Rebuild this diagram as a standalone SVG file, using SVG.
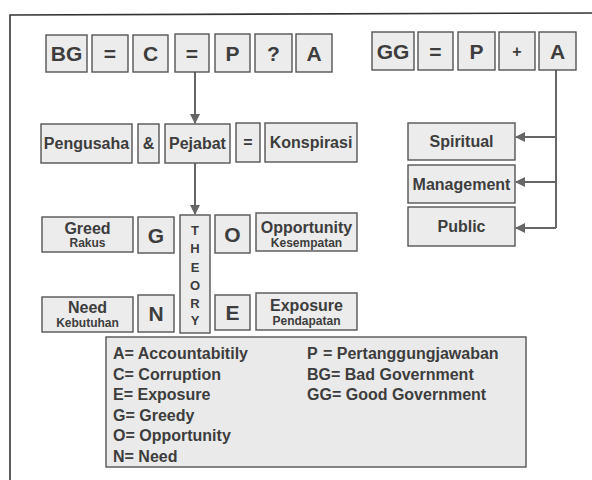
<svg xmlns="http://www.w3.org/2000/svg" width="592" height="480" viewBox="0 0 592 480">
<style>
.bx{fill:#ececec;stroke:#555;stroke-width:1.4}
.t{font-family:"Liberation Sans",Arial,sans-serif;font-weight:bold;fill:#3d3d3d;text-anchor:middle}
.big{font-size:21px}
.md{font-size:16px}
.sm{font-size:12px}
.th{font-family:"Liberation Sans",Arial,sans-serif;font-weight:bold;font-size:13px;fill:#3d3d3d;text-anchor:middle}
.lg{font-family:"Liberation Sans",Arial,sans-serif;font-weight:bold;font-size:16px;fill:#3d3d3d}
.cn{fill:none;stroke:#666;stroke-width:2}
</style>
<defs>
<marker id="ah" viewBox="0 0 10 10" refX="9" refY="5" markerWidth="5" markerHeight="5" orient="auto" markerUnits="strokeWidth">
<path d="M0,0 L10,5 L0,10 z" fill="#666"/>
</marker>
</defs>
<rect width="592" height="480" fill="#ffffff"/>
<g id="frame"><path d="M10,480 L10,15 L592,13" fill="none" stroke="#333" stroke-width="1.6"/></g>

<g id="connectors">
<line class="cn" x1="195" y1="72" x2="195" y2="123" marker-end="url(#ah)"/>
<line class="cn" x1="195" y1="163" x2="195" y2="214" marker-end="url(#ah)"/>
<path class="cn" d="M556,70 L556,228"/>
<line class="cn" x1="556" y1="137" x2="516" y2="137" marker-end="url(#ah)"/>
<line class="cn" x1="556" y1="182" x2="516" y2="182" marker-end="url(#ah)"/>
<line class="cn" x1="556" y1="228" x2="516" y2="228" marker-end="url(#ah)"/>
</g>

<g id="bg"><rect class="bx" x="46" y="35" width="41" height="37"/><text class="t big" x="66.5" y="61">BG</text></g>
<g id="eq1"><rect class="bx" x="92" y="35" width="36" height="37"/><text class="t big" x="110" y="61">=</text></g>
<g id="c"><rect class="bx" x="133" y="35" width="35" height="37"/><text class="t big" x="150.5" y="61">C</text></g>
<g id="eq2"><rect class="bx" x="175" y="34" width="34" height="38"/><text class="t big" x="192" y="61">=</text></g>
<g id="p1"><rect class="bx" x="215" y="34" width="35" height="38"/><text class="t big" x="232.5" y="61">P</text></g>
<g id="q"><rect class="bx" x="255" y="34" width="37" height="38"/><text class="t big" x="273.5" y="61">?</text></g>
<g id="a1"><rect class="bx" x="296" y="34" width="36" height="38"/><text class="t big" x="314" y="61">A</text></g>

<g id="gg"><rect class="bx" x="372" y="32" width="42" height="38"/><text class="t big" x="393" y="59">GG</text></g>
<g id="eq3"><rect class="bx" x="418" y="32" width="35" height="38"/><text class="t big" x="435.5" y="59">=</text></g>
<g id="p2"><rect class="bx" x="458" y="32" width="37" height="38"/><text class="t big" x="476.5" y="59">P</text></g>
<g id="plus"><rect class="bx" x="499" y="32" width="36" height="38"/><text class="t md" x="517" y="57">+</text></g>
<g id="a2"><rect class="bx" x="539" y="32" width="37" height="38"/><text class="t big" x="557.5" y="59">A</text></g>

<g id="pengusaha"><rect class="bx" x="41" y="124" width="91" height="39"/><text class="t md" x="86.5" y="149">Pengusaha</text></g>
<g id="amp"><rect class="bx" x="138" y="124" width="21" height="39"/><text class="t md" x="148.5" y="149">&amp;</text></g>
<g id="pejabat"><rect class="bx" x="165" y="124" width="65" height="39"/><text class="t md" x="197.5" y="149">Pejabat</text></g>
<g id="eq4"><rect class="bx" x="236" y="123" width="24" height="39"/><text class="t md" x="248" y="148">=</text></g>
<g id="konspirasi"><rect class="bx" x="265" y="123" width="92" height="39"/><text class="t md" x="311" y="148">Konspirasi</text></g>

<g id="greed"><rect class="bx" x="42" y="217" width="91" height="35"/><text class="t md" x="87.5" y="234">Greed</text><text class="t sm" x="87.5" y="247">Rakus</text></g>
<g id="g"><rect class="bx" x="138" y="217" width="36" height="36"/><text class="t big" x="156" y="243">G</text></g>
<g id="theory"><rect class="bx" x="180" y="215" width="30" height="118"/>
<text class="th" x="195" y="235">T</text><text class="th" x="195" y="253">H</text><text class="th" x="195" y="272">E</text><text class="th" x="195" y="290">O</text><text class="th" x="195" y="308">R</text><text class="th" x="195" y="325">Y</text></g>
<g id="o"><rect class="bx" x="215" y="215" width="35" height="38"/><text class="t big" x="232.5" y="242">O</text></g>
<g id="opportunity"><rect class="bx" x="256" y="213" width="101" height="38"/><text class="t md" x="306.5" y="233">Opportunity</text><text class="t sm" x="306.5" y="247">Kesempatan</text></g>

<g id="need"><rect class="bx" x="42" y="297" width="91" height="35"/><text class="t md" x="87.5" y="313">Need</text><text class="t sm" x="87.5" y="327">Kebutuhan</text></g>
<g id="n"><rect class="bx" x="138" y="295" width="36" height="37"/><text class="t big" x="156" y="321">N</text></g>
<g id="e"><rect class="bx" x="215" y="295" width="35" height="35"/><text class="t big" x="232.5" y="320">E</text></g>
<g id="exposure"><rect class="bx" x="256" y="293" width="101" height="37"/><text class="t md" x="306.5" y="311">Exposure</text><text class="t sm" x="306.5" y="325">Pendapatan</text></g>

<g id="spiritual"><rect class="bx" x="408" y="123" width="107" height="37"/><text class="t md" x="461.5" y="147">Spiritual</text></g>
<g id="management"><rect class="bx" x="408" y="165" width="107" height="38"/><text class="t md" x="461.5" y="190">Management</text></g>
<g id="public"><rect class="bx" x="408" y="207" width="107" height="39"/><text class="t md" x="461.5" y="232">Public</text></g>

<g id="legend"><rect class="bx" x="106" y="337" width="420" height="130" style="fill:#eaeaea"/>
<text class="lg" x="113" y="359">A= Accountabitily</text>
<text class="lg" x="113" y="380">C= Corruption</text>
<text class="lg" x="113" y="400">E= Exposure</text>
<text class="lg" x="113" y="421">G= Greedy</text>
<text class="lg" x="113" y="441">O= Opportunity</text>
<text class="lg" x="113" y="462">N= Need</text>
<text class="lg" x="307" y="359">P<tspan x="323">= Pertanggungjawaban</tspan></text>
<text class="lg" x="307" y="380">BG= Bad Government</text>
<text class="lg" x="307" y="400">GG= Good Government</text>
</g>
</svg>
